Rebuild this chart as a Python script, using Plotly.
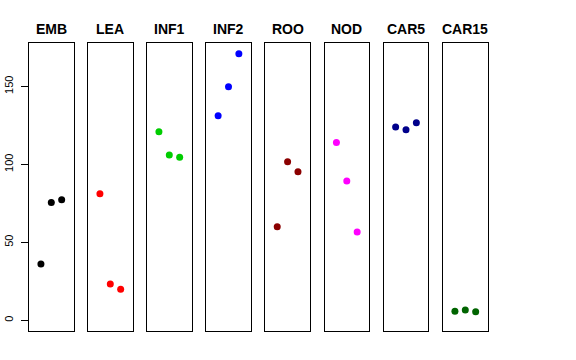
import plotly.graph_objects as go

categories = ["EMB", "LEA", "INF1", "INF2", "ROO", "NOD", "CAR5", "CAR15"]
emb = [36.1, 75.6, 77.3]
lea = [81.2, 23.3, 19.9]
inf1 = [120.9, 106.0, 104.5]
inf2 = [131.2, 149.8, 170.9]
roo = [60.0, 101.7, 95.3]
nod = [114.1, 89.3, 56.6]
car5 = [123.9, 122.2, 126.7]
car15 = [5.8, 6.6, 5.5]
series = [emb, lea, inf1, inf2, roo, nod, car5, car15]
colors = ["#000000", "#FF0000", "#00CD00", "#0000FF", "#8B0000", "#FF00FF", "#00008B", "#006400"]
y_ticks = [0, 50, 100, 150]

W, H = 576, 360
lefts = [29, 88, 147, 206.2, 265.3, 324.5, 383.7, 443]
pw = 44.6
ytop, ybot = 43, 330.7

fig = go.Figure()
layout = dict(
    width=W, height=H, margin=dict(l=0, r=0, t=0, b=0, autoexpand=False),
    paper_bgcolor="white", plot_bgcolor="white", showlegend=False,
    font=dict(family="Liberation Sans, Arial, sans-serif", color="black"),
)
annotations = []
for i, (cat, vals, col) in enumerate(zip(categories, series, colors)):
    n = i + 1
    sx = "" if n == 1 else str(n)
    fig.add_trace(go.Scatter(
        x=[1, 2, 3], y=vals, mode="markers",
        marker=dict(color=col, size=7, line=dict(width=0)),
        xaxis="x" + sx, yaxis="y" + sx, hoverinfo="skip"))
    x0 = lefts[i] / W
    x1 = (lefts[i] + pw) / W
    layout["xaxis" + sx] = dict(
        domain=[x0, x1], range=[-0.15, 4.15], anchor="y" + sx,
        showgrid=False, zeroline=False, showticklabels=False, ticks="",
        automargin=False,
        showline=True, mirror=True, linecolor="black", linewidth=1)
    layout["yaxis" + sx] = dict(
        domain=[(H - ybot) / H, (H - ytop) / H], range=[-6.6, 177.8],
        anchor="x" + sx, automargin=False,
        showgrid=False, zeroline=False,
        showticklabels=(n == 1), ticks="outside" if n == 1 else "",
        tickvals=y_ticks, ticklen=7, tickwidth=1, tickcolor="black",
        tickangle=-90, tickfont=dict(size=11, color="black"),
        ticklabelstandoff=4,
        showline=True, mirror=True, linecolor="black", linewidth=1)
    annotations.append(dict(
        text="<b>" + cat + "</b>", x=(x0 + x1) / 2, y=(H - 29) / H,
        xref="paper", yref="paper", xanchor="center", yanchor="middle",
        showarrow=False, font=dict(size=14, color="black")))
layout["annotations"] = annotations
fig.update_layout(**layout)
fig.write_html("out.html", config={"displayModeBar": False},
               post_script="document.body.style.margin='0';")
